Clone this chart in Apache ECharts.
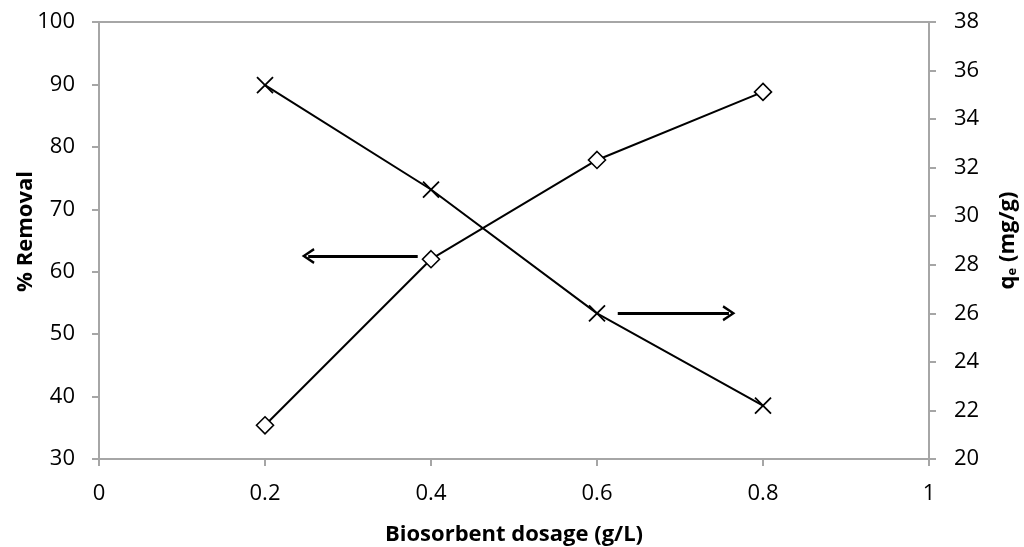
<!DOCTYPE html>
<html><head><meta charset="utf-8">
<script src="https://cdn.jsdelivr.net/npm/echarts@6/dist/echarts.min.js"></script>
<style>html,body{margin:0;padding:0;background:#fff}#c{width:1024px;height:547px}</style>
</head><body><div id="c"></div>
<script>
const dosage = [0.2, 0.4, 0.6, 0.8];
const removal = [35.4, 62.0, 77.9, 88.8];
const qe = [35.4, 31.1, 26.0, 22.2];
const xTicks = [0, 0.2, 0.4, 0.6, 0.8, 1];
const leftArrow = [[0.384, 62.5], [0.252, 62.5]];
const rightArrow = [[0.625, 26.0], [0.759, 26.0]];

const FONT = '"Open Sans", sans-serif';
const AX = '#A6A6A6';
const chevron = 'path://M0,10 L5,0 L10,10 L8.6,11 L5,3.6 L1.4,11 Z';
const cross = 'path://M0,0 L10,10 M10,0 L0,10';

const chart = echarts.init(document.getElementById('c'), null, {renderer: 'canvas'});
chart.setOption({
  animation: false,
  backgroundColor: '#fff',
  grid: {left: 99, right: 95, top: 22, bottom: 88, show: true, borderColor: AX, borderWidth: 2,
         containLabel: false, outerBoundsMode: 'none'},
  xAxis: {
    type: 'value', min: 0, max: 1, interval: 0.2,
    name: 'Biosorbent dosage (g/L)', nameLocation: 'middle', nameGap: 65,
    nameTextStyle: {fontFamily: FONT, fontWeight: 'bold', fontSize: 22, color: '#000'},
    axisLine: {lineStyle: {color: AX, width: 2}},
    axisTick: {show: true, length: 7, lineStyle: {color: AX, width: 2}},
    splitLine: {show: false},
    axisLabel: {fontFamily: FONT, fontSize: 22, color: '#000', margin: 24,
      formatter: v => { const t = xTicks.find(x => Math.abs(x - v) < 1e-9); return t === undefined ? '' : String(t); }}
  },
  yAxis: [{
    type: 'value', min: 30, max: 100, interval: 10, position: 'left',
    name: '% Removal', nameLocation: 'middle', nameGap: 62, nameRotate: 90, nameMoveOverlap: false,
    nameTextStyle: {fontFamily: FONT, fontWeight: 'bold', fontSize: 22, color: '#000', padding: [0, 0, 0, 18]},
    axisLine: {show: true, lineStyle: {color: AX, width: 2}},
    axisTick: {show: true, length: 7, lineStyle: {color: AX, width: 2}},
    splitLine: {show: false},
    axisLabel: {fontFamily: FONT, fontSize: 22, color: '#000', margin: 24}
  }, {
    type: 'value', min: 20, max: 38, interval: 2, position: 'right',
    name: '{a|q}{b|e}{a| (mg/g)}', nameLocation: 'middle', nameGap: 67, nameRotate: 90, nameMoveOverlap: false,
    nameTextStyle: {fontFamily: FONT, fontWeight: 'bold', fontSize: 22, color: '#000',
      rich: {a: {fontFamily: FONT, fontWeight: 'bold', fontSize: 22, color: '#000'},
             b: {fontFamily: FONT, fontWeight: 'bold', fontSize: 13, color: '#000', verticalAlign: 'bottom', padding: [10, 0, 0, 0]}}},
    axisLine: {show: true, lineStyle: {color: AX, width: 2}},
    axisTick: {show: true, length: 7, lineStyle: {color: AX, width: 2}},
    splitLine: {show: false},
    axisLabel: {fontFamily: FONT, fontSize: 22, color: '#000', margin: 25}
  }],
  series: [{
    name: '% Removal', type: 'line', yAxisIndex: 0,
    data: dosage.map((x, i) => [x, removal[i]]),
    symbol: 'diamond', symbolSize: 17, showAllSymbol: true,
    lineStyle: {color: '#000', width: 2},
    itemStyle: {color: '#fff', borderColor: '#000', borderWidth: 1.6},
    z: 3,
    markLine: {
      silent: true, symbol: ['none', chevron], symbolSize: [16, 13],
      label: {show: false}, lineStyle: {color: '#000', width: 3, type: 'solid'},
      data: [[{coord: leftArrow[0]}, {coord: leftArrow[1]}]]
    }
  }, {
    name: 'qe', type: 'line', yAxisIndex: 1,
    data: dosage.map((x, i) => [x, qe[i]]),
    symbol: cross, symbolSize: 16, showAllSymbol: true,
    lineStyle: {color: '#000', width: 2},
    itemStyle: {color: 'transparent', borderColor: '#000', borderWidth: 1.8},
    z: 3,
    markLine: {
      silent: true, symbol: ['none', chevron], symbolSize: [16, 13],
      label: {show: false}, lineStyle: {color: '#000', width: 3, type: 'solid'},
      data: [[{coord: rightArrow[0]}, {coord: rightArrow[1]}]]
    }
  }]
});
</script></body></html>
